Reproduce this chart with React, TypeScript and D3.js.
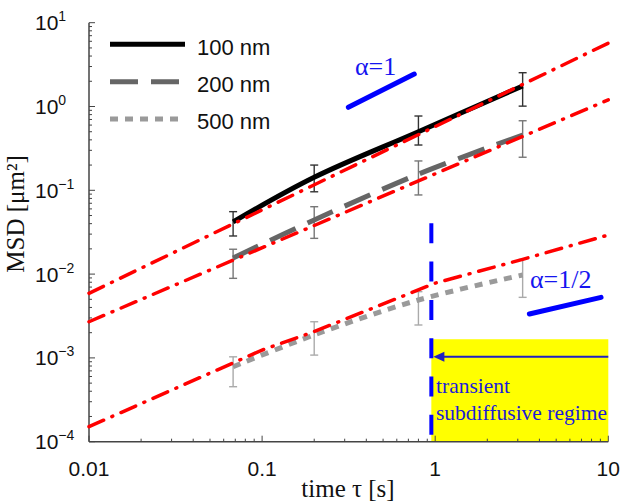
import React from "react";
import * as d3 from "d3";

// ---- data ----
const tau = [0.068, 0.2, 0.8, 3.2];
const msd100 = [0.042, 0.143, 0.5, 1.76];
const lo100 = [0.0285, 0.096, 0.347, 1.01];
const hi100 = [0.0556, 0.2, 0.77, 2.53];
const msd200 = [0.0156, 0.0443, 0.156, 0.457];
const lo200 = [0.0089, 0.0267, 0.088, 0.248];
const hi200 = [0.0198, 0.0637, 0.224, 0.676];
const msd500 = [0.000785, 0.00188, 0.00491, 0.00975];
const lo500 = [0.000453, 0.00108, 0.00247, 0.00528];
const hi500 = [0.00103, 0.0027, 0.00617, 0.015];

const fitTauA = [0.01, 10];
const fit100 = [0.0059, 5.7];
const fit200 = [0.0027, 1.2];
const fitTauB = [0.01, 0.1, 0.2, 1, 3.2, 10];
const fit500 = [0.000151, 0.00124, 0.00206, 0.0078, 0.015, 0.0293];

const xTickValues = [0.01, 0.1, 1, 10];
const xTickLabels = ["0.01", "0.1", "1", "10"];
const yExponents = [-4, -3, -2, -1, 0, 1];
const legendLabels = ["100 nm", "200 nm", "500 nm"];

const transientTau = 0.95;

export default function App() {
  const W = 625, H = 503;
  const x = d3.scaleLog().domain([0.01, 10]).range([89, 608.3]);
  const y = d3.scaleLog().domain([1e-4, 10]).range([441.7, 22.7]);

  const pts = (xs: number[], ys: number[]) => xs.map((t, i) => [t, ys[i]] as [number, number]);
  const smooth = d3.line<[number, number]>().x(d => x(d[0])).y(d => y(d[1])).curve(d3.curveCatmullRom.alpha(0.5));
  const straight = d3.line<[number, number]>().x(d => x(d[0])).y(d => y(d[1]));

  const series = [
    { m: msd100, lo: lo100, hi: hi100, color: "#000", dash: "none", bar: "#333" },
    { m: msd200, lo: lo200, hi: hi200, color: "#666", dash: "28 13", bar: "#777" },
    { m: msd500, lo: lo500, hi: hi500, color: "#9a9a9a", dash: "8 7", bar: "#aaa" },
  ];

  // minor ticks
  const xMinor: number[] = [];
  for (let e = -2; e < 1; e++) for (let k = 2; k <= 9; k++) xMinor.push(k * Math.pow(10, e));
  const yMinor: number[] = [];
  for (let e = -4; e < 1; e++) for (let k = 2; k <= 9; k++) yMinor.push(k * Math.pow(10, e));

  const axisColor = "#444";
  const sans = "'Liberation Sans', Arial, Helvetica, sans-serif";
  const serif = "'Liberation Serif', 'Times New Roman', serif";
  const red = "#ff0000";
  const redDash = "16 9 1 9";

  const yTopDash = 0.0404;
  const boxTop = 0.00167;
  const arrowY = y(0.00103);

  return (
    <svg width={W} height={H} style={{ position: "absolute", left: 0, top: 0, background: "#fff" }}>
      {/* yellow box */}
      <rect x={x(transientTau)} y={y(boxTop)} width={x(10) - x(transientTau)} height={y(1e-4) - y(boxTop)} fill="#ffff00" />

      {/* axes */}
      <line x1={x(0.01)} x2={x(0.01)} y1={y(10)} y2={y(1e-4)} stroke={axisColor} strokeWidth={1.5} />
      <line x1={x(0.01)} x2={x(10)} y1={y(1e-4)} y2={y(1e-4)} stroke={axisColor} strokeWidth={1.5} />
      {xMinor.map((v, i) => (
        <line key={"xm" + i} x1={x(v)} x2={x(v)} y1={y(1e-4)} y2={y(1e-4) - 3} stroke={axisColor} strokeWidth={1} />
      ))}
      {xTickValues.map((v, i) => (
        <line key={"xM" + i} x1={x(v)} x2={x(v)} y1={y(1e-4)} y2={y(1e-4) - 6} stroke={axisColor} strokeWidth={1} />
      ))}
      {yMinor.map((v, i) => (
        <line key={"ym" + i} x1={x(0.01)} x2={x(0.01) + 3} y1={y(v)} y2={y(v)} stroke={axisColor} strokeWidth={1} />
      ))}
      {yExponents.map((e, i) => (
        <line key={"yM" + i} x1={x(0.01)} x2={x(0.01) + 6} y1={y(Math.pow(10, e))} y2={y(Math.pow(10, e))} stroke={axisColor} strokeWidth={1} />
      ))}

      {/* tick labels */}
      {xTickValues.map((v, i) => (
        <text key={"xl" + i} x={x(v)} y={476} textAnchor="middle" fontFamily={sans} fontSize={21} fill="#111">
          {xTickLabels[i]}
        </text>
      ))}
      {yExponents.map((e, i) => (
        <text key={"yl" + i} x={35} y={y(Math.pow(10, e)) + 7.5} fontFamily={sans} fontSize={21} fill="#111">
          10
          <tspan fontSize={14} dy={-9}>{e < 0 ? "\u2212" + Math.abs(e) : String(e)}</tspan>
        </text>
      ))}

      {/* axis titles */}
      <text x={348} y={497} textAnchor="middle" fontFamily={serif} fontSize={25} fill="#111">
        time τ [s]
      </text>
      <text transform="translate(24,214) rotate(-90)" textAnchor="middle" fontFamily={serif} fontSize={25} fill="#111">
        MSD [μm²]
      </text>

      {/* error bars */}
      {series.map((s, si) =>
        tau.map((t, i) => (
          <g key={"eb" + si + "_" + i} stroke={s.bar} strokeWidth={1.4}>
            <line x1={x(t)} x2={x(t)} y1={y(s.lo[i])} y2={y(s.hi[i])} />
            <line x1={x(t) - 4} x2={x(t) + 4} y1={y(s.lo[i])} y2={y(s.lo[i])} />
            <line x1={x(t) - 4} x2={x(t) + 4} y1={y(s.hi[i])} y2={y(s.hi[i])} />
          </g>
        ))
      )}

      {/* data curves */}
      {series.map((s, si) => (
        <path key={"s" + si} d={smooth(pts(tau, s.m)) || ""} fill="none" stroke={s.color} strokeWidth={5}
          strokeDasharray={s.dash} />
      ))}

      {/* red fits */}
      <path d={straight(pts(fitTauA, fit100)) || ""} fill="none" stroke={red} strokeWidth={3.5} strokeDasharray={redDash} strokeLinecap="round" />
      <path d={straight(pts(fitTauA, fit200)) || ""} fill="none" stroke={red} strokeWidth={3.5} strokeDasharray={redDash} strokeLinecap="round" />
      <path d={straight(pts(fitTauB, fit500)) || ""} fill="none" stroke={red} strokeWidth={3.5} strokeDasharray={redDash} strokeLinecap="round" />

      {/* transient boundary */}
      <line x1={x(transientTau)} x2={x(transientTau)} y1={y(yTopDash)} y2={y(1e-4)} stroke="#0000ff" strokeWidth={4} strokeDasharray="20 18.3" />
      <line x1={x(10)} x2={x(transientTau) + 8} y1={arrowY} y2={arrowY} stroke="#2020c0" strokeWidth={2} />
      <path d={`M${x(transientTau) + 2},${arrowY} L${x(transientTau) + 13},${arrowY - 5} L${x(transientTau) + 13},${arrowY + 5} Z`} fill="#2020c0" />
      <text x={436} y={393} fontFamily={serif} fontSize={21.5} fill="#1c1cd8">transient</text>
      <text x={436} y={420} fontFamily={serif} fontSize={21.5} fill="#1c1cd8">subdiffusive regime</text>

      {/* slope guides */}
      <line x1={x(0.315)} y1={y(0.977)} x2={x(0.757)} y2={y(2.44)} stroke="#0000ff" strokeWidth={5} strokeLinecap="round" />
      <text x={355} y={75} fontFamily={serif} fontSize={26} fill="#1515f0">α=1</text>
      <line x1={x(3.5)} y1={y(0.00334)} x2={x(9.08)} y2={y(0.00528)} stroke="#0000ff" strokeWidth={5} strokeLinecap="round" />
      <text x={530} y={288} fontFamily={serif} fontSize={26} fill="#1515f0">α=1/2</text>

      {/* legend */}
      {series.map((s, i) => (
        <g key={"lg" + i}>
          <line x1={110} x2={185} y1={44.3 + i * 37.4} y2={44.3 + i * 37.4} stroke={s.color} strokeWidth={5} strokeDasharray={s.dash} />
          <text x={197} y={55 + i * 37.2} fontFamily={sans} fontSize={22} fill="#111">{legendLabels[i]}</text>
        </g>
      ))}
    </svg>
  );
}
